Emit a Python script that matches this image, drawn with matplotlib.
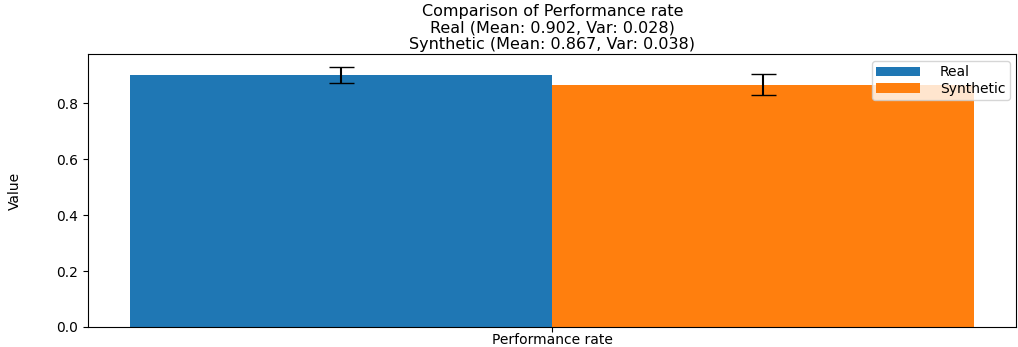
import numpy as np
import matplotlib.pyplot as plt

metric = 'Performance rate'
labels = ['Real', 'Synthetic']
means = [0.902, 0.867]
variances = [0.028, 0.038]
colors = ['#1f77b4', '#ff7f0e']

fig = plt.figure(figsize=(10.18, 3.47), dpi=100)
ax = fig.add_axes([0.0865, 0.058, 0.912, 0.786])

x = np.arange(1)
width = 0.4
for i, (lab, m, v) in enumerate(zip(labels, means, variances)):
    ax.bar(x + (i - 0.5) * width, [m], width, yerr=[v], capsize=9,
           color=colors[i], label=lab)

ax.set_xticks(x)
ax.set_xticklabels([metric])
ax.tick_params(axis='x', labelsize=10, pad=1)
ax.tick_params(axis='y', labelsize=10)
ax.set_ylabel('Value', labelpad=25)
ax.set_title(f'Comparison of {metric}\n'
             f'Real (Mean: {means[0]:.3f}, Var: {variances[0]:.3f})\n'
             f'Synthetic (Mean: {means[1]:.3f}, Var: {variances[1]:.3f})',
             fontsize=11.5, linespacing=1.1, pad=4)
ax.legend(loc='upper right', handlelength=3.2, handletextpad=1.4,
          labelspacing=0.2, borderpad=0.3)

fig.savefig('out.png', dpi=100)
